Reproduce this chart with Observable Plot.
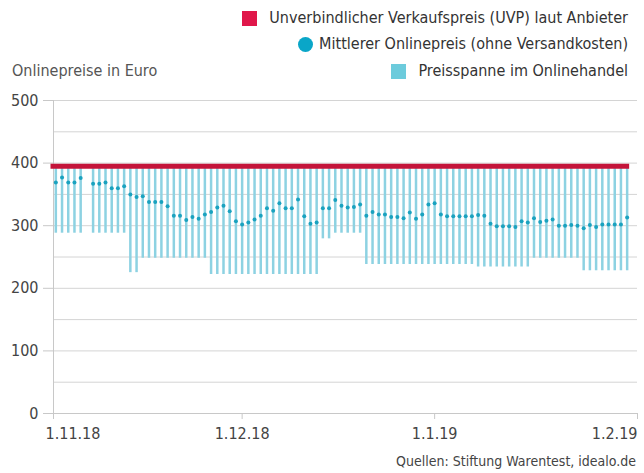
<!DOCTYPE html>
<html><head><meta charset="utf-8">
<script src="https://cdn.jsdelivr.net/npm/d3@7"></script>
<script src="https://cdn.jsdelivr.net/npm/@observablehq/plot@0.6"></script>
<style>
body{margin:0;background:#fff;}
#wrap{position:relative;width:644px;height:473px;overflow:hidden;font-family:"Liberation Sans Narrow","DejaVu Sans Condensed","Arial Narrow",sans-serif;color:#333;}
#chart{position:absolute;left:0;top:0;}
.leg{position:absolute;right:16px;font-size:16px;line-height:20px;white-space:nowrap;display:flex;align-items:center;color:#333;}
.sq{display:inline-block;width:15px;height:15px;margin-right:12px;}
.ci{display:inline-block;width:15px;height:15px;border-radius:50%;margin-right:6px;}
#title{position:absolute;left:12px;top:61px;font-size:16px;line-height:20px;color:#555;}
#cap{position:absolute;right:8px;top:452px;font-size:14px;line-height:18px;color:#444;}
</style></head>
<body>
<div id="wrap">
  <div id="chart"></div>
  <div class="leg" style="top:8px"><span class="sq" style="background:#e0174a"></span>Unverbindlicher Verkaufspreis (UVP) laut Anbieter</div>
  <div class="leg" style="top:34px"><span class="ci" style="background:#0aa6c8"></span>Mittlerer Onlinepreis (ohne Versandkosten)</div>
  <div class="leg" style="top:61px"><span class="sq" style="background:#6ccbdc"></span>Preisspanne im Onlinehandel</div>
  <div id="title">Onlinepreise in Euro</div>
  <div id="cap">Quellen: Stiftung Warentest, idealo.de</div>
</div>
<script>
// Daily values from 1.11.18 to 1.2.19 (93 days); null = no data that day
const startDay = "2018-11-01";
const uvp = 395;
const priceMean = [
  369,377,369,369,376,null,367,367,369,360,360,363,350,346,347,338,338,338,331,316,
  316,309,314,311,318,322,329,332,323,307,302,305,310,316,328,324,336,328,328,342,
  315,303,305,328,328,341,332,329,330,334,316,322,318,318,314,314,312,321,311,318,
  334,336,318,315,315,315,315,315,317,316,303,299,299,299,298,307,305,312,306,308,
  310,300,300,301,300,296,301,298,302,302,302,302,313
];
const priceMin = [
  288,288,288,288,288,null,288,288,288,288,288,288,225,225,248,248,248,248,248,248,
  248,248,248,248,248,222,222,222,222,222,222,222,222,222,222,222,222,222,222,222,
  222,222,222,279,279,288,288,288,288,288,238,238,238,238,238,238,238,238,238,238,
  238,238,238,238,238,238,238,238,234,234,234,234,234,234,234,234,234,248,248,248,
  248,248,248,248,248,228,228,228,228,228,228,228,228
];
const priceMax = [
  395,395,395,395,395,null,395,395,395,395,395,395,395,395,395,395,395,395,395,395,
  395,395,395,395,395,395,395,395,395,395,395,395,395,395,395,395,395,395,395,395,
  395,395,395,395,395,395,395,395,395,395,395,395,395,395,395,395,395,395,395,395,
  395,395,395,395,395,395,395,395,395,395,395,395,395,395,395,395,395,395,395,395,
  395,395,395,395,395,395,395,395,395,395,395,395,395
];
const yTicks = [0,100,200,300,400,500];
const yGrid = [50,100,150,200,250,300,350,400,450,500];
const xTickDates = ["2018-10-31T15:00Z","2018-12-01","2019-01-01","2019-02-02T16:00Z"];
const xTickLabels = ["1.11.18","1.12.18","1.1.19","1.2.19"];

const t0 = new Date(startDay + "T00:00Z");
const data = priceMean.map((m, i) => ({
  date: d3.utcDay.offset(t0, i), mean: m, lo: priceMin[i], hi: priceMax[i]
})).filter(d => d.mean != null);
const xDomain = [new Date(xTickDates[0]), new Date(xTickDates[xTickDates.length-1])];
const xt = xTickDates.map((d, i) => ({date: new Date(d), label: xTickLabels[i]}));
const lastDay = data[data.length-1].date;

const fontFam = '"Liberation Sans Narrow","DejaVu Sans Condensed","Arial Narrow",sans-serif';
const chart = Plot.plot({
  width: 644, height: 473,
  marginTop: 100, marginBottom: 60, marginLeft: 53, marginRight: 7,
  style: {fontFamily: fontFam, fontSize: "16px", background: "transparent", color: "#444"},
  x: {type: "utc", domain: xDomain, axis: null},
  y: {domain: [0, 500], axis: null},
  marks: [
    Plot.ruleY(yGrid, {stroke: "#d4d4d4", strokeWidth: 1}),
    Plot.axisY({ticks: yTicks, tickSize: 10, tickPadding: 5, stroke: "#c8c8c8", fill: "#444", fontSize: 16, label: null}),
    Plot.ruleX([xDomain[0]], {y1: 0, y2: 500, stroke: "#c8c8c8"}),
    Plot.ruleY([0], {stroke: "#c8c8c8"}),
    Plot.axisX({ticks: xt.map(d => d.date), tickFormat: () => "", tickSize: 6, stroke: "#c8c8c8", label: null}),
    Plot.text(xt.slice(0,1), {x: "date", text: "label", frameAnchor: "bottom", dy: 25, textAnchor: "start", dx: -8, fill: "#444", fontSize: 16}),
    Plot.text(xt.slice(1,-1), {x: "date", text: "label", frameAnchor: "bottom", dy: 25, textAnchor: "middle", fill: "#444", fontSize: 16}),
    Plot.text(xt.slice(-1), {x: "date", text: "label", frameAnchor: "bottom", dy: 25, textAnchor: "end", fill: "#444", fontSize: 16}),
    Plot.ruleX(data, {x: "date", y1: "lo", y2: "hi", stroke: "#8dd2e2", strokeWidth: 2.5}),
    Plot.ruleY([uvp], {x1: xDomain[0], x2: lastDay, stroke: "#c4143a", strokeWidth: 5, strokeLinecap: "square"}),
    Plot.dot(data, {x: "date", y: "mean", r: 2, fill: "#1aa2bf", stroke: "none"})
  ]
});
document.getElementById("chart").appendChild(chart);
</script>
</body></html>
